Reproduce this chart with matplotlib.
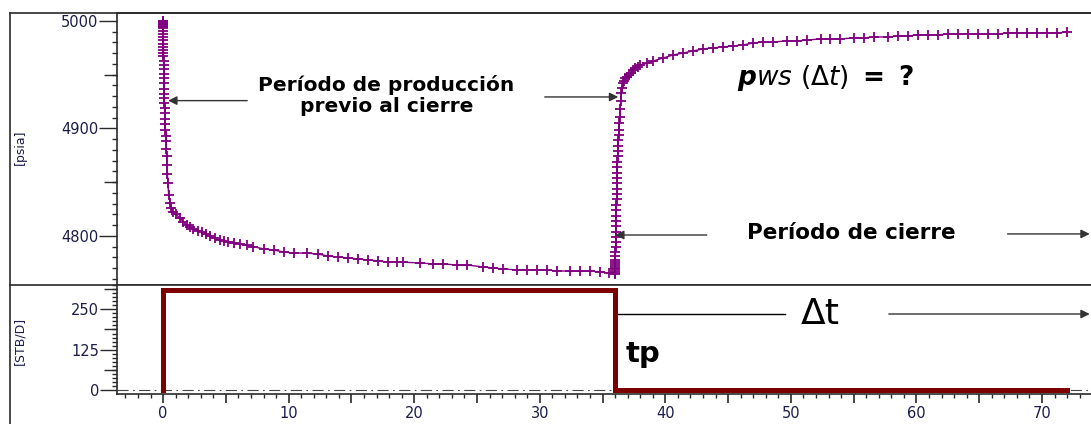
import matplotlib
matplotlib.use('Agg')
import matplotlib.pyplot as plt
from matplotlib.ticker import MultipleLocator, FixedLocator, FuncFormatter
from matplotlib.lines import Line2D

plt.rcParams['font.family'] = ['DejaVu Sans']
plt.rcParams['mathtext.fontset'] = 'custom'
plt.rcParams['mathtext.rm'] = 'DejaVu Sans'
plt.rcParams['mathtext.it'] = 'DejaVu Sans:italic'
plt.rcParams['mathtext.bf'] = 'DejaVu Sans:bold'
plt.rcParams['mathtext.bfit'] = 'DejaVu Sans:italic:bold'

# ---------------- data ----------------
t_drawdown = [0.0, 0.0005, 0.001, 0.0015, 0.002, 0.003, 0.004, 0.005, 0.006, 0.008,
              0.010, 0.012, 0.015, 0.018, 0.021, 0.025, 0.029, 0.033, 0.038, 0.043,
              0.049, 0.055, 0.062, 0.070, 0.080, 0.090, 0.100, 0.110, 0.125, 0.140,
              0.155, 0.170, 0.190, 0.210, 0.230, 0.260, 0.290, 0.320, 0.350, 0.380,
              0.450, 0.56, 0.65, 0.80, 1.00, 1.35, 1.60, 1.90, 2.15, 2.40,
              2.75, 3.10, 3.40, 3.70, 4.10, 4.50, 4.85, 5.20, 5.65, 6.10,
              6.65, 7.20, 8.00, 8.80, 9.60, 10.4, 11.5, 12.3, 13.1, 13.9,
              14.7, 15.5, 16.3, 17.1, 17.9, 18.6, 19.1, 20.5, 21.5, 22.3,
              23.4, 24.2, 25.5, 26.3, 27.1, 28.2, 29.0, 29.8, 30.6, 31.4,
              32.4, 33.2, 34.0, 34.8, 35.5]
p_drawdown = [5000.0, 4999.5, 4999.0, 4998.0, 4997.5, 4996.5, 4995.5, 4994.5, 4993.0, 4991.0,
              4988.0, 4985.0, 4982.0, 4979.0, 4976.0, 4973.0, 4970.0, 4967.0, 4963.0, 4959.0,
              4955.0, 4951.0, 4947.0, 4942.0, 4937.0, 4932.0, 4928.0, 4924.0, 4919.0, 4914.0,
              4909.0, 4904.0, 4899.0, 4893.0, 4888.0, 4881.0, 4874.0, 4866.0, 4858.0, 4849.0,
              4838.0, 4830.7, 4826.0, 4822.0, 4820.0, 4817.0, 4813.0, 4810.0, 4808.0, 4806.5,
              4805.0, 4804.0, 4802.0, 4800.0, 4798.0, 4796.3, 4795.3, 4794.4, 4793.5, 4792.6,
              4791.3, 4790.0, 4788.0, 4787.0, 4785.1, 4784.2, 4784.0, 4783.3, 4781.4, 4780.5,
              4779.5, 4778.6, 4777.7, 4776.7, 4775.8, 4775.8, 4775.6, 4774.9, 4774.0, 4774.0,
              4773.0, 4773.0, 4771.2, 4770.2, 4769.3, 4768.4, 4768.4, 4768.4, 4768.4, 4767.4,
              4767.4, 4767.4, 4767.4, 4766.5, 4765.6]

t_buildup = [36.0, 36.002, 36.004, 36.006, 36.008, 36.010, 36.013, 36.016, 36.02, 36.025,
             36.03, 36.035, 36.04, 36.05, 36.06, 36.07, 36.08, 36.09, 36.10, 36.11,
             36.12, 36.13, 36.14, 36.15, 36.16, 36.17, 36.18, 36.19, 36.20, 36.22,
             36.24, 36.26, 36.28, 36.30, 36.33, 36.36, 36.40, 36.45, 36.50, 36.57,
             36.62, 36.70, 36.80, 36.97, 37.10, 37.25, 37.45, 37.60, 37.80, 38.0,
             38.57, 39.04, 39.84, 40.64, 41.43, 42.23, 43.0, 43.8, 44.6, 45.4,
             46.2, 47.0, 47.8, 48.6, 49.7, 50.5, 51.3, 52.4, 53.1, 53.9,
             55.0, 55.8, 56.6, 57.7, 58.5, 59.3, 60.1, 60.9, 61.7, 62.5,
             63.3, 64.1, 64.9, 65.7, 66.5, 67.3, 68.0, 68.8, 69.6, 70.4,
             71.2, 72.0]
p_buildup = [4765.0, 4766.0, 4767.5, 4769.0, 4770.5, 4772.0, 4773.5, 4775.5, 4778.0, 4781.0,
             4785.0, 4789.5, 4794.0, 4799.0, 4804.0, 4809.0, 4814.0, 4819.0, 4824.0, 4829.0,
             4834.0, 4839.0, 4844.0, 4849.0, 4854.0, 4859.0, 4864.0, 4869.0, 4874.0, 4879.0,
             4884.0, 4889.0, 4894.0, 4899.0, 4905.0, 4911.0, 4918.0, 4926.0, 4933.0, 4938.0,
             4942.3, 4944.5, 4946.5, 4947.9, 4949.5, 4951.5, 4954.4, 4956.0, 4957.5, 4959.1,
             4960.9, 4962.8, 4965.6, 4968.4, 4970.2, 4972.1, 4974.0, 4974.9, 4975.8, 4976.7,
             4977.7, 4979.5, 4980.5, 4980.5, 4981.4, 4981.4, 4982.3, 4983.3, 4983.3, 4983.3,
             4984.2, 4984.2, 4985.1, 4985.1, 4986.0, 4986.0, 4987.0, 4987.0, 4987.0, 4987.9,
             4987.9, 4987.9, 4987.9, 4987.9, 4987.9, 4988.8, 4988.8, 4988.8, 4988.8, 4988.8,
             4988.8, 4989.8]

t_rate = [0.0, 0.0, 36.0, 36.0, 72.0]
q_rate = [0.0, 310.0, 310.0, 0.0, 0.0]

p_ticks = [4800, 4900, 5000]
q_ticks = [0, 125, 250]
x_ticks = [0, 10, 20, 30, 40, 50, 60, 70]

label_p = "[psia]"
label_q = "[STB/D]"
txt_prod = ["Período de producción", "previo al cierre"]
txt_cierre = "Período de cierre"
txt_pws = r"$\mathbfit{p}\mathit{ws}\ (\Delta\mathit{t})\ \mathbf{=\ ?}$"
txt_dt = "Δt"
txt_tp = "tp"

# ---------------- layout ----------------
W, H = 1091, 424
def fx(px): return px / W
def fy(py): return 1 - py / H

fig = plt.figure(figsize=(W / 100, H / 100), dpi=100)
fig.patch.set_facecolor('white')

ax1 = fig.add_axes([fx(117), fy(285), 1 - fx(117), fy(13) - fy(285)])
ax2 = fig.add_axes([fx(117), fy(394), 1 - fx(117), fy(285) - fy(394)])

purple = '#800080'
dred = '#7d0000'
tcol = '#1c1c4a'
scol = '#2a2a2a'

t_all = t_drawdown + t_buildup
p_all = p_drawdown + p_buildup
ax1.plot(t_all, p_all, color=purple, lw=1.0, marker='+', ms=7, mew=1.3)

xlim = (-3.67, 73.9)
ax1.set_xlim(*xlim)
ax1.set_ylim(4754.4, 5007.4)
ax2.set_xlim(*xlim)
ax2.set_ylim(-12.4, 325.4)

ax2.axhline(0, color='#444444', lw=0.8, ls=(0, (10, 4, 1.5, 4)), zorder=1)
ax2.plot(t_rate, q_rate, color=dred, lw=3.6, solid_joinstyle='miter', zorder=3)

# spines
for ax in (ax1, ax2):
    ax.spines['right'].set_visible(False)
    for s in ('left', 'top', 'bottom'):
        ax.spines[s].set_color(scol)
        ax.spines[s].set_linewidth(1.2)

# ticks top axis
ax1.set_xticks([])
ax1.yaxis.set_major_locator(FixedLocator(p_ticks))
ax1.yaxis.set_minor_locator(MultipleLocator(10))
ax1.tick_params(axis='y', which='major', length=13, width=1.0, color=scol,
                labelsize=10.5, labelcolor=tcol, pad=0.5)
ax1.tick_params(axis='y', which='minor', length=3.6, width=1.0, color=scol)
sec1 = ax1.secondary_yaxis('left')
sec1.set_yticks([4800 - 50 + 100 * k for k in range(0, 3)])
sec1.tick_params(length=9.4, width=1.0, color=scol, labelleft=False)
sec1.spines['left'].set_visible(False)

# ticks bottom axis
ax2.yaxis.set_major_locator(FixedLocator(q_ticks))
ax2.yaxis.set_minor_locator(MultipleLocator(12.5))
ax2.tick_params(axis='y', which='major', length=12.5, width=1.0, color=scol,
                labelsize=10.5, labelcolor=tcol, pad=0.5)
ax2.tick_params(axis='y', which='minor', length=3.6, width=1.0, color=scol)
sec2 = ax2.secondary_yaxis('left')
sec2.set_yticks([62.5, 187.5, 312.5])
sec2.tick_params(length=9.4, width=1.0, color=scol, labelleft=False)
sec2.spines['left'].set_visible(False)

ax2.xaxis.set_major_locator(MultipleLocator(5))
ax2.xaxis.set_minor_locator(MultipleLocator(1))
ax2.xaxis.set_major_formatter(FuncFormatter(lambda v, pos: f"{int(round(v))}" if int(round(v)) in x_ticks else ""))
ax2.tick_params(axis='x', which='major', length=6.5, width=1.2, color=scol,
                labelsize=10.5, labelcolor=tcol, pad=2)
ax2.tick_params(axis='x', which='minor', length=3.0, width=1.0, color=scol)

# axis labels
fig.text(fx(20), fy(147), label_p, rotation=90, ha='center', va='center', fontsize=9, color=tcol)
fig.text(fx(20), fy(341), label_q, rotation=90, ha='center', va='center', fontsize=9, color=tcol)

# outer frame
fig.add_artist(Line2D([fx(10), fx(10)], [0, fy(13)], color=scol, lw=1.2))
fig.add_artist(Line2D([fx(10), 1], [fy(13), fy(13)], color=scol, lw=1.2))
fig.add_artist(Line2D([fx(10), fx(117)], [fy(285), fy(285)], color=scol, lw=1.2))

# annotations top
arrow_kw = dict(arrowstyle='-|>', color='#333333', lw=1.0, mutation_scale=13, shrinkA=0, shrinkB=0)
ax1.text(17.8, 4940.0, txt_prod[0], ha='center', va='center', fontsize=14.5, fontweight='bold', color='black')
ax1.text(17.8, 4920.5, txt_prod[1], ha='center', va='center', fontsize=14.5, fontweight='bold', color='black')
ax1.annotate('', xy=(0.4, 4925.9), xytext=(6.7, 4925.9), arrowprops=arrow_kw)
ax1.annotate('', xy=(36.25, 4929.3), xytext=(30.4, 4929.3), arrowprops=arrow_kw)
ax1.text(45.7, 4940.5, txt_pws, ha='left', va='baseline', fontsize=19, color='black')
ax1.text(54.8, 4802.8, txt_cierre, ha='center', va='center', fontsize=15.5, fontweight='bold', color='black')
ax1.annotate('', xy=(36.0, 4800.9), xytext=(43.3, 4800.9), arrowprops=arrow_kw)
ax1.annotate('', xy=(73.8, 4801.9), xytext=(67.25, 4801.9), arrowprops=arrow_kw)

# annotations bottom
ax2.plot([35.9, 49.56], [235.5, 235.5], color='black', lw=1.0)
ax2.text(52.35, 235.5, txt_dt, ha='center', va='center', fontsize=26, color='black')
ax2.annotate('', xy=(73.8, 235.5), xytext=(57.8, 235.5), arrowprops=arrow_kw)
ax2.text(36.8, 86.8, txt_tp, ha='left', va='baseline', fontsize=21, fontweight='bold', color='black')

fig.savefig('out.png', dpi=100)
